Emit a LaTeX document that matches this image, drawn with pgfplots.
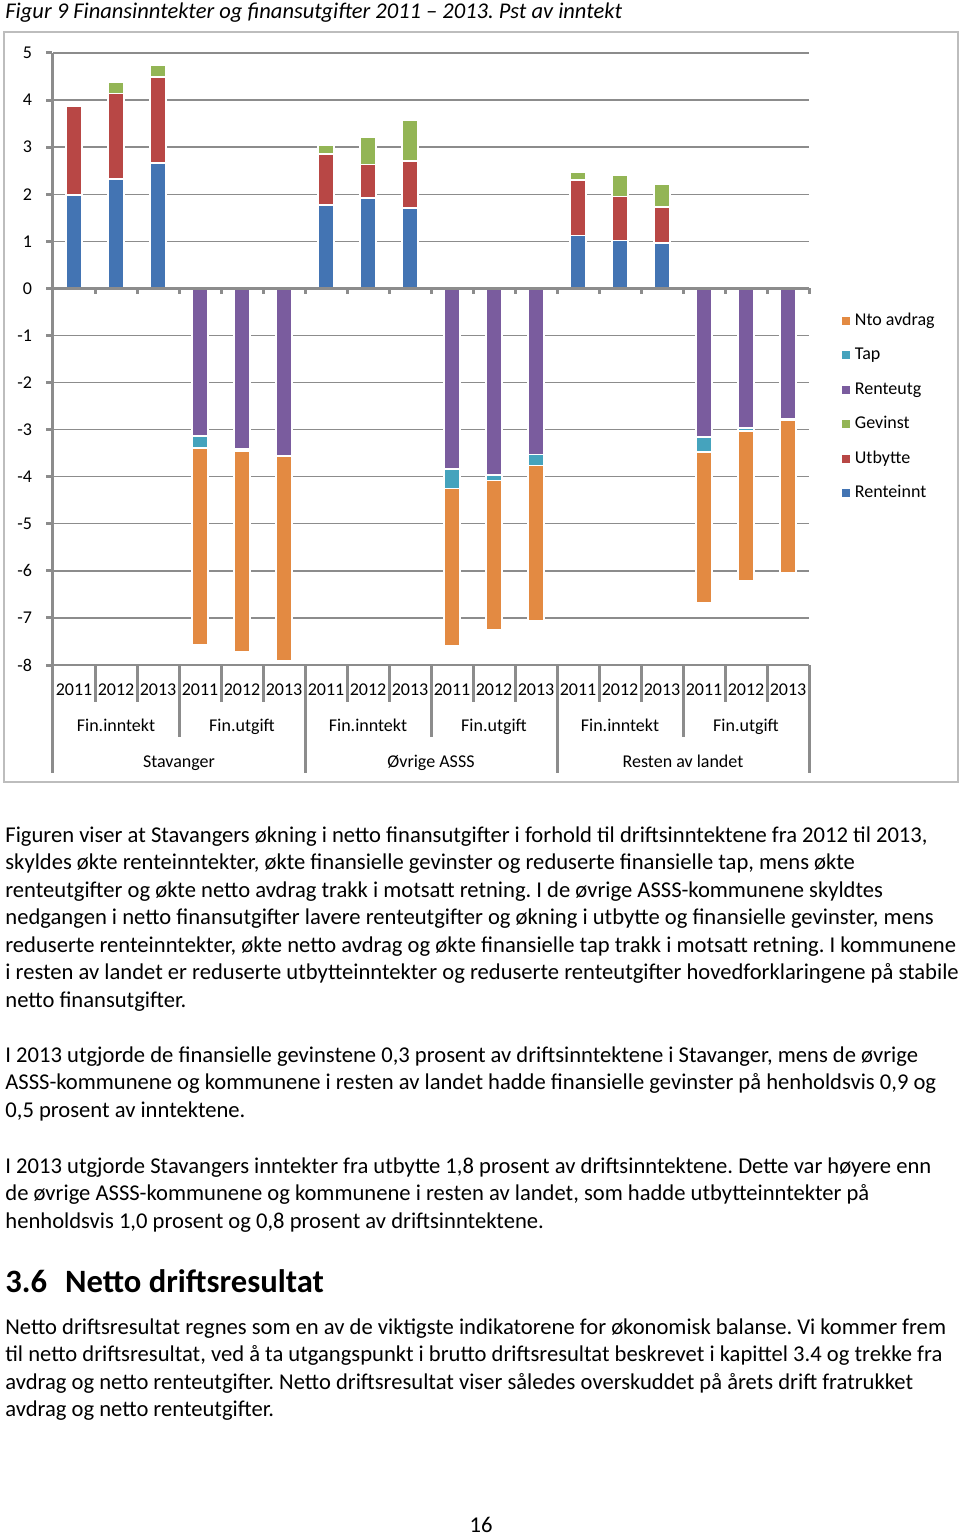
\documentclass[border=0pt]{standalone}
\usepackage{pgfplots}
\pgfplotsset{compat=1.18}
\usepackage{pgfplotstable}
\usepackage{fontspec}
\setmainfont{Carlito}
\definecolor{cRinn}{HTML}{4374B3}
\definecolor{cUtb}{HTML}{B84745}
\definecolor{cGev}{HTML}{93B555}
\definecolor{cRutg}{HTML}{7A5C9E}
\definecolor{cTap}{HTML}{45A3BD}
\definecolor{cAvd}{HTML}{E38A42}
\definecolor{axgray}{HTML}{8C8C8C}
\definecolor{framegray}{HTML}{BDBDBD}

\pgfplotstableread{
x rinn utb gev rutg tap avd
0 1.98 1.89 0 0 0 0
1 2.32 1.82 0.23 0 0 0
2 2.66 1.83 0.26 0 0 0
3 0 0 0 -3.13 -0.26 -4.18
4 0 0 0 -3.41 -0.04 -4.26
5 0 0 0 -3.55 -0.01 -4.35
6 1.77 1.09 0.18 0 0 0
7 1.92 0.71 0.58 0 0 0
8 1.71 1.00 0.87 0 0 0
9 0 0 0 -3.84 -0.41 -3.35
10 0 0 0 -3.96 -0.12 -3.17
11 0 0 0 -3.53 -0.23 -3.31
12 1.12 1.18 0.17 0 0 0
13 1.02 0.93 0.45 0 0 0
14 0.97 0.76 0.49 0 0 0
15 0 0 0 -3.16 -0.32 -3.20
16 0 0 0 -2.97 -0.06 -3.19
17 0 0 0 -2.78 -0.01 -3.26
}\data

\newcommand{\chartfont}{\fontsize{9}{11}\selectfont}
\newcommand{\bodyfont}{\fontsize{11.3}{13}\selectfont}
\frenchspacing

\begin{document}
\begin{tikzpicture}
\begin{scope}[x=0.5pt,y=-0.5pt]
\path[use as bounding box] (0,0) rectangle (960,1536);
\draw[framegray, line width=0.8pt] (4,32) rectangle (958,782);
\end{scope}
\begin{axis}[
  at={(26.5pt,-332.5pt)}, anchor=south west,
  scale only axis, width=378pt, height=306pt,
  xmin=-0.5, xmax=17.5, ymin=-8, ymax=5,
  ybar stacked, bar width=8pt,
  axis line style={draw=none},
  ymajorgrids, grid style={axgray, line width=0.7pt},
  ytick={-8,-7,-6,-5,-4,-3,-2,-1,0,1,2,3,4,5},
  yticklabels={-8,-7,-6,-5,-4,-3,-2,-1,0,1,2,3,4,5},
  ytick style={draw=none},
  yticklabel style={anchor=east, xshift=-7pt},
  xtick={0,...,17},
  xticklabels={2011,2012,2013,2011,2012,2013,2011,2012,2013,2011,2012,2013,2011,2012,2013,2011,2012,2013},
  xtick style={draw=none},
  xticklabel style={anchor=center, yshift=-12.5pt},
  tick label style={font=\chartfont},
  every axis plot/.append style={draw=white, line width=0.8pt},
  reverse legend,
  legend cell align=left,
  legend image code/.code={\fill[#1,draw=none] (0pt,-2pt) rectangle (4pt,2pt);},
  legend style={at={(1.043,0.4216)}, anchor=west, draw=none, fill=none, inner sep=0pt,
    font=\chartfont, row sep=6.75pt, column sep=1.5pt,
    nodes={inner sep=1pt, text height=6.5pt, text depth=2pt}},
]
\addplot[fill=cRinn] table[x=x, y=rinn] {\data};
\addplot[fill=cUtb] table[x=x, y=utb] {\data};
\addplot[fill=cGev] table[x=x, y=gev] {\data};
\addplot[fill=cRutg] table[x=x, y=rutg] {\data};
\addplot[fill=cTap] table[x=x, y=tap] {\data};
\addplot[fill=cAvd] table[x=x, y=avd] {\data};
\legend{Renteinnt,Utbytte,Gevinst,Renteutg,Tap,Nto avdrag}
\end{axis}
\begin{scope}[x=0.5pt,y=-0.5pt]
% axes
\draw[axgray, line width=1.5pt] (52,53) -- (52,773);
\foreach \v in {0,...,13} \draw[axgray, line width=1.5pt] (46,53+47.077*\v) -- (52,53+47.077*\v);
\draw[axgray, line width=1.5pt] (52,288.4) -- (809,288.4);
\foreach \k in {1,...,18} \draw[axgray, line width=1.5pt] (53+42*\k,288.4) -- (53+42*\k,294);
% category separators
\foreach \k in {1,2,4,5,7,8,10,11,13,14,16,17} \draw[axgray, line width=1.5pt] (53+42*\k,665) -- (53+42*\k,702);
\foreach \k in {3,9,15} \draw[axgray, line width=1.5pt] (53+42*\k,665) -- (53+42*\k,737);
\foreach \k in {6,12,18} \draw[axgray, line width=1.5pt] (53+42*\k,665) -- (53+42*\k,773);
% group labels
\foreach \j/\t in {0/Fin.inntekt,1/Fin.utgift,2/Fin.inntekt,3/Fin.utgift,4/Fin.inntekt,5/Fin.utgift}
  \node[font=\chartfont, inner sep=0pt, anchor=base] at (116+126*\j,731) {\t};
\foreach \r/\t in {0/Stavanger,1/Øvrige ASSS,2/Resten av landet}
  \node[font=\chartfont, inner sep=0pt, anchor=base] at (179+252*\r,767) {\t};
% title
\node[anchor=base west, inner sep=0pt, font=\fontsize{11.25}{13}\selectfont\itshape] at (5,19) {Figur 9 Finansinntekter og finansutgifter 2011 – 2013. Pst av inntekt};
% body text
\begin{scope}[every node/.style={anchor=base west, inner sep=0pt, font=\bodyfont}]
\node at (5,842) {Figuren viser at Stavangers økning i netto finansutgifter i forhold til driftsinntektene fra 2012 til 2013,};
\node at (5,869.5) {skyldes økte renteinntekter, økte finansielle gevinster og reduserte finansielle tap, mens økte};
\node at (5,897) {renteutgifter og økte netto avdrag trakk i motsatt retning. I de øvrige ASSS-kommunene skyldtes};
\node at (5,924.5) {nedgangen i netto finansutgifter lavere renteutgifter og økning i utbytte og finansielle gevinster, mens};
\node at (5,952) {reduserte renteinntekter, økte netto avdrag og økte finansielle tap trakk i motsatt retning. I kommunene};
\node at (5,979.5) {i resten av landet er reduserte utbytteinntekter og reduserte renteutgifter hovedforklaringene på stabile};
\node at (5,1007) {netto finansutgifter.};
\node at (5,1062) {I 2013 utgjorde de finansielle gevinstene 0,3 prosent av driftsinntektene i Stavanger, mens de øvrige};
\node at (5,1089.5) {ASSS-kommunene og kommunene i resten av landet hadde finansielle gevinster på henholdsvis 0,9 og};
\node at (5,1117) {0,5 prosent av inntektene.};
\node at (5,1173) {I 2013 utgjorde Stavangers inntekter fra utbytte 1,8 prosent av driftsinntektene. Dette var høyere enn};
\node at (5,1200.5) {de øvrige ASSS-kommunene og kommunene i resten av landet, som hadde utbytteinntekter på};
\node at (5,1228) {henholdsvis 1,0 prosent og 0,8 prosent av driftsinntektene.};
\node at (5,1334) {Netto driftsresultat regnes som en av de viktigste indikatorene for økonomisk balanse. Vi kommer frem};
\node at (5,1361.5) {til netto driftsresultat, ved å ta utgangspunkt i brutto driftsresultat beskrevet i kapittel 3.4 og trekke fra};
\node at (5,1389) {avdrag og netto renteutgifter. Netto driftsresultat viser således overskuddet på årets drift fratrukket};
\node at (5,1416.5) {avdrag og netto renteutgifter.};
\end{scope}
\node[anchor=base west, inner sep=0pt, font=\fontsize{16.3}{19}\selectfont\bfseries] at (5,1292) {3.6\hspace{9pt}Netto driftsresultat};
\node[anchor=base, inner sep=0pt, font=\bodyfont] at (481,1532) {16};
\end{scope}
\end{tikzpicture}
\end{document}
